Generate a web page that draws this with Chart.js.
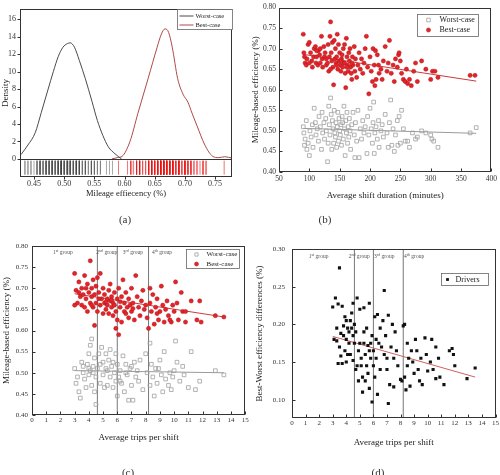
<!DOCTYPE html>
<html><head><meta charset="utf-8">
<script src="https://cdn.jsdelivr.net/npm/chart.js@4/dist/chart.umd.min.js"></script>
<style>
html,body{margin:0;padding:0;background:#fff;}
body{width:500px;height:475px;position:relative;overflow:hidden;font-family:"Liberation Serif",serif;}
.pane{position:absolute;}
.lab{position:absolute;font:11px "Liberation Serif",serif;color:#333;transform:translateX(-50%);white-space:nowrap;}
</style></head><body>
<div class="pane" style="left:0;top:0;width:250px;height:235px"><canvas id="ca"></canvas></div>
<div class="pane" style="left:250px;top:0;width:250px;height:235px"><canvas id="cb"></canvas></div>
<div class="pane" style="left:0;top:235px;width:250px;height:240px"><canvas id="cc"></canvas></div>
<div class="pane" style="left:250px;top:235px;width:250px;height:240px"><canvas id="cd"></canvas></div>
<div class="lab" style="left:125px;top:213px">(a)</div>
<div class="lab" style="left:325px;top:213px">(b)</div>
<div class="lab" style="left:128px;top:466px">(c)</div>
<div class="lab" style="left:378px;top:466px">(d)</div>
<script>
// ---------- DATA ----------
const densWorstX = [0.4285,0.44,0.452,0.462,0.473,0.482,0.490,0.498,0.505,0.510,0.517,0.525,0.535,0.546,0.555,0.564,0.573,0.584,0.595];
const densWorstY = [0.5,1.6,3.0,5.3,7.9,10.0,11.7,12.8,13.2,13.3,12.8,11.3,9.2,6.6,4.4,2.7,1.4,0.6,0.0];
const densBestX = [0.579,0.588,0.596,0.609,0.622,0.639,0.654,0.661,0.667,0.673,0.679,0.688,0.697,0.705,0.712,0.720,0.733,0.746,0.756,0.766,0.778];
const densBestY = [0.0,0.15,0.3,2.0,5.2,9.2,12.8,14.3,14.9,14.5,12.8,9.2,7.4,6.5,5.2,3.8,1.6,0.3,0.15,0.25,0.1];
const densTicksX = [0.45,0.50,0.55,0.60,0.65,0.70,0.75];
const densTicksY = [0,2,4,6,8,10,12,14,16];

const shiftBest = [[90,0.735],[91,0.69],[92,0.68],[93,0.665],[95,0.66],[96,0.675],[98,0.71],[100,0.715],[102,0.69],[104,0.67],[105,0.655],[107,0.68],[108,0.70],[110,0.705],[111,0.665],[112,0.68],[114,0.66],[115,0.695],[117,0.685],[118,0.665],[120,0.73],[121,0.675],[122,0.655],[124,0.705],[125,0.68],[126,0.69],[128,0.66],[130,0.665],[131,0.71],[132,0.645],[133,0.68],[134,0.73],[135,0.765],[136,0.69],[137,0.67],[138,0.715],[139,0.655],[140,0.612],[141,0.72],[142,0.675],[143,0.70],[144,0.665],[145,0.68],[146,0.735],[147,0.65],[148,0.71],[149,0.67],[150,0.69],[151,0.66],[152,0.645],[153,0.675],[154,0.685],[155,0.655],[156,0.70],[157,0.665],[158,0.71],[159,0.64],[160,0.605],[161,0.725],[162,0.68],[163,0.66],[164,0.645],[165,0.69],[166,0.67],[167,0.70],[168,0.655],[169,0.64],[170,0.625],[171,0.68],[172,0.66],[174,0.705],[175,0.645],[176,0.675],[178,0.63],[180,0.66],[182,0.69],[184,0.65],[186,0.675],[188,0.64],[190,0.665],[192,0.70],[194,0.73],[196,0.655],[198,0.59],[200,0.68],[202,0.645],[204,0.62],[205,0.70],[207,0.66],[208,0.61],[209,0.695],[210,0.625],[212,0.685],[214,0.66],[215,0.64],[218,0.65],[220,0.625],[222,0.67],[225,0.705],[228,0.645],[230,0.665],[232,0.72],[235,0.64],[238,0.66],[240,0.62],[242,0.675],[245,0.655],[247,0.685],[248,0.69],[250,0.67],[252,0.64],[255,0.625],[258,0.62],[260,0.65],[262,0.615],[265,0.625],[268,0.61],[272,0.645],[275,0.665],[278,0.62],[285,0.67],[292,0.65],[300,0.625],[303,0.645],[307,0.645],[312,0.63],[365,0.635],[373,0.635],[145,0.66],[152,0.67],[158,0.665],[162,0.655],[128,0.675],[118,0.7],[112,0.695],[100,0.665],[135,0.65],[170,0.665]];
const shiftWorst = [[90,0.51],[91,0.495],[92,0.465],[93,0.48],[95,0.525],[96,0.455],[98,0.47],[100,0.44],[101,0.50],[103,0.485],[105,0.515],[106,0.46],[108,0.555],[110,0.52],[111,0.49],[113,0.505],[115,0.475],[116,0.535],[118,0.51],[120,0.455],[121,0.545],[122,0.495],[124,0.52],[125,0.48],[127,0.53],[128,0.50],[130,0.425],[131,0.47],[132,0.56],[133,0.515],[134,0.49],[135,0.58],[136,0.54],[137,0.455],[138,0.525],[139,0.505],[140,0.47],[141,0.55],[142,0.495],[143,0.485],[144,0.52],[145,0.46],[146,0.51],[147,0.545],[148,0.475],[149,0.53],[150,0.50],[151,0.49],[152,0.515],[153,0.465],[154,0.535],[155,0.52],[156,0.48],[157,0.56],[158,0.505],[159,0.44],[160,0.525],[161,0.495],[162,0.545],[163,0.47],[164,0.51],[165,0.485],[166,0.53],[167,0.50],[168,0.455],[170,0.515],[172,0.545],[174,0.49],[175,0.435],[176,0.52],[178,0.475],[180,0.55],[182,0.435],[184,0.505],[186,0.48],[188,0.525],[190,0.495],[192,0.51],[195,0.445],[196,0.535],[198,0.49],[200,0.555],[202,0.505],[204,0.47],[205,0.52],[206,0.57],[207,0.445],[208,0.495],[210,0.51],[212,0.48],[214,0.525],[215,0.46],[218,0.50],[220,0.515],[222,0.485],[225,0.54],[228,0.495],[230,0.46],[232,0.52],[234,0.575],[236,0.465],[238,0.505],[240,0.45],[242,0.49],[245,0.525],[246,0.465],[248,0.535],[250,0.47],[252,0.55],[255,0.505],[258,0.475],[262,0.475],[265,0.46],[270,0.495],[275,0.48],[278,0.485],[285,0.50],[292,0.495],[300,0.49],[302,0.48],[305,0.475],[312,0.46],[365,0.495],[375,0.508]];
const shiftBestTrend = [[90,0.686],[375,0.621]];
const shiftWorstTrend = [[90,0.506],[375,0.494]];
const shiftTicksX = [50,100,150,200,250,300,350,400];
const effTicksY = [0.40,0.45,0.50,0.55,0.60,0.65,0.70,0.75,0.80];

const tripsBest = [[3.0,0.735],[3.0,0.66],[3.1,0.695],[3.2,0.665],[3.3,0.715],[3.4,0.68],[3.5,0.66],[3.5,0.70],[3.6,0.685],[3.7,0.73],[3.7,0.655],[3.8,0.675],[3.9,0.71],[3.9,0.645],[4.0,0.69],[4.1,0.765],[4.1,0.665],[4.2,0.70],[4.2,0.68],[4.3,0.655],[4.3,0.72],[4.4,0.612],[4.4,0.685],[4.5,0.665],[4.5,0.705],[4.6,0.725],[4.6,0.645],[4.7,0.69],[4.8,0.735],[4.8,0.66],[4.9,0.675],[5.0,0.64],[5.0,0.70],[5.1,0.665],[5.1,0.685],[5.2,0.65],[5.3,0.675],[5.3,0.66],[5.4,0.695],[5.4,0.64],[5.5,0.67],[5.5,0.71],[5.6,0.655],[5.6,0.68],[5.7,0.665],[5.7,0.635],[5.8,0.69],[5.8,0.66],[5.9,0.605],[5.9,0.645],[6.0,0.675],[6.0,0.625],[6.1,0.59],[6.1,0.70],[6.2,0.655],[6.3,0.68],[6.3,0.62],[6.4,0.72],[6.5,0.665],[6.5,0.645],[6.6,0.69],[6.7,0.655],[6.8,0.675],[6.8,0.63],[6.9,0.66],[7.0,0.70],[7.0,0.645],[7.1,0.665],[7.2,0.625],[7.3,0.73],[7.4,0.68],[7.5,0.655],[7.6,0.635],[7.7,0.67],[7.8,0.695],[7.9,0.65],[8.0,0.66],[8.1,0.63],[8.2,0.605],[8.3,0.70],[8.3,0.665],[8.4,0.645],[8.5,0.685],[8.6,0.615],[8.7,0.655],[8.8,0.675],[8.9,0.625],[9.0,0.645],[9.1,0.705],[9.2,0.66],[9.3,0.62],[9.4,0.65],[9.5,0.67],[9.6,0.635],[9.8,0.62],[9.9,0.66],[10.0,0.645],[10.1,0.715],[10.2,0.665],[10.3,0.625],[10.5,0.69],[10.6,0.645],[10.8,0.62],[10.8,0.645],[11.2,0.67],[11.6,0.625],[11.8,0.67],[11.9,0.62],[12.9,0.635],[13.5,0.632],[3.3,0.69],[3.8,0.70],[4.2,0.66],[4.7,0.675],[5.2,0.668],[5.6,0.672],[6.2,0.668],[6.6,0.64],[7.1,0.652],[8.8,0.64],[9.7,0.625]];
const tripsWorst = [[3.0,0.51],[3.1,0.475],[3.2,0.49],[3.3,0.455],[3.4,0.44],[3.5,0.525],[3.6,0.50],[3.7,0.485],[3.8,0.465],[3.9,0.52],[4.0,0.545],[4.0,0.495],[4.1,0.505],[4.1,0.565],[4.2,0.58],[4.2,0.47],[4.3,0.515],[4.4,0.455],[4.4,0.535],[4.5,0.425],[4.5,0.49],[4.6,0.51],[4.7,0.545],[4.8,0.475],[4.9,0.56],[5.0,0.495],[5.0,0.525],[5.1,0.465],[5.2,0.545],[5.3,0.505],[5.3,0.47],[5.4,0.53],[5.5,0.49],[5.5,0.555],[5.6,0.515],[5.7,0.465],[5.8,0.50],[5.9,0.545],[5.9,0.48],[6.0,0.445],[6.0,0.52],[6.1,0.49],[6.2,0.505],[6.3,0.475],[6.4,0.54],[6.5,0.455],[6.6,0.52],[6.7,0.495],[6.8,0.435],[6.9,0.51],[7.0,0.47],[7.1,0.435],[7.2,0.525],[7.3,0.49],[7.4,0.505],[7.5,0.48],[7.6,0.53],[7.8,0.46],[8.0,0.545],[8.1,0.50],[8.3,0.57],[8.3,0.47],[8.4,0.52],[8.5,0.49],[8.6,0.445],[8.7,0.51],[8.8,0.475],[9.0,0.53],[9.1,0.495],[9.2,0.455],[9.3,0.55],[9.4,0.485],[9.6,0.47],[9.7,0.50],[9.8,0.46],[10.0,0.505],[10.1,0.575],[10.2,0.525],[10.4,0.48],[10.6,0.515],[10.7,0.495],[11.0,0.465],[11.2,0.55],[11.5,0.46],[11.8,0.48],[12.9,0.505],[13.5,0.495],[3.6,0.515],[4.0,0.51],[4.3,0.50],[4.8,0.52],[5.2,0.51],[5.7,0.525],[6.2,0.48],[6.6,0.50],[7.0,0.515],[8.9,0.51],[9.9,0.49]];
const tripsBestTrend = [[3.0,0.687],[13.5,0.632]];
const tripsWorstTrend = [[3.0,0.505],[13.5,0.500]];
const tripsTicksX = [0,1,2,3,4,5,6,7,8,9,10,11,12,13,14,15];
const groupBounds = [4.6,6.0,8.2];
const groupNum = ['1','2','3','4'];
const groupSuf = ['st','nd','rd','th'];
const groupLabelXc = [2.17,5.26,7.1,9.15];
const groupLabelXd = [1.96,4.95,6.8,9.0];

const tripsDiff = [[3.0,0.223],[3.1,0.18],[3.2,0.235],[3.3,0.178],[3.3,0.195],[3.4,0.227],[3.4,0.148],[3.5,0.275],[3.5,0.17],[3.6,0.158],[3.6,0.188],[3.7,0.224],[3.7,0.148],[3.8,0.185],[3.8,0.198],[3.9,0.21],[3.9,0.165],[4.0,0.205],[4.0,0.18],[4.0,0.15],[4.1,0.195],[4.1,0.16],[4.2,0.19],[4.2,0.175],[4.3,0.205],[4.3,0.16],[4.4,0.215],[4.4,0.195],[4.5,0.152],[4.5,0.228],[4.5,0.185],[4.6,0.2],[4.6,0.175],[4.7,0.14],[4.7,0.19],[4.8,0.145],[4.8,0.235],[4.9,0.165],[4.9,0.125],[5.0,0.22],[5.0,0.175],[5.1,0.145],[5.1,0.155],[5.2,0.11],[5.2,0.13],[5.3,0.222],[5.3,0.175],[5.3,0.19],[5.4,0.16],[5.4,0.125],[5.5,0.195],[5.5,0.145],[5.6,0.172],[5.6,0.135],[5.7,0.228],[5.7,0.115],[5.7,0.165],[5.8,0.155],[5.8,0.175],[5.9,0.097],[5.9,0.185],[6.0,0.145],[6.0,0.165],[6.1,0.21],[6.1,0.13],[6.2,0.18],[6.2,0.155],[6.3,0.213],[6.3,0.107],[6.4,0.175],[6.5,0.195],[6.5,0.14],[6.6,0.17],[6.7,0.205],[6.8,0.245],[6.8,0.16],[6.9,0.185],[7.0,0.14],[7.0,0.155],[7.1,0.095],[7.1,0.212],[7.2,0.12],[7.3,0.17],[7.4,0.2],[7.5,0.155],[7.5,0.117],[7.6,0.19],[7.7,0.165],[7.8,0.145],[8.0,0.127],[8.1,0.125],[8.2,0.198],[8.3,0.13],[8.3,0.2],[8.4,0.113],[8.5,0.175],[8.5,0.145],[8.6,0.155],[8.7,0.118],[8.8,0.165],[8.9,0.15],[9.0,0.135],[9.1,0.18],[9.2,0.165],[9.3,0.14],[9.4,0.125],[9.5,0.155],[9.6,0.12],[9.8,0.182],[9.9,0.16],[10.0,0.138],[10.2,0.15],[10.3,0.18],[10.4,0.14],[10.6,0.128],[10.6,0.17],[10.8,0.155],[10.9,0.13],[11.2,0.12],[11.6,0.165],[11.8,0.168],[11.9,0.16],[12.0,0.145],[12.9,0.128],[13.5,0.142]];
const diffTrend = [[3.0,0.184],[13.5,0.130]];
const diffTicksY = [0.10,0.15,0.20,0.25,0.30];

// ---------- HELPERS ----------
Chart.defaults.font.family = "'Liberation Serif','Times New Roman',serif";
Chart.defaults.color = '#333';
Chart.defaults.animation = false;

const pts = arr => arr.map(p => ({x:p[0], y:p[1]}));
const fixedTicks = vals => scale => { scale.ticks = vals.map(v => ({value:v})); };

function marker(ctx, kind, x, y, r){
  ctx.beginPath();
  if (kind === 'circle') { ctx.arc(x, y, r, 0, Math.PI*2); }
  else { ctx.rect(x - r, y - r, 2*r, 2*r); }
}

const framePlugin = {
  id: 'frame',
  afterDatasetsDraw(chart, args, o) {
    const {ctx, chartArea:a, scales} = chart;
    ctx.save();
    const L = Math.round(a.left)+0.5, T = Math.round(a.top)+0.5, R = Math.round(a.right)-0.5, B = Math.round(a.bottom)-0.5;
    ctx.strokeStyle = '#333'; ctx.lineWidth = 1;
    ctx.strokeRect(L, T, R-L, B-T);
    const tl = o.tickLen || 3, dir = o.inward ? 1 : -1;
    ctx.beginPath();
    scales.x.ticks.forEach(t => { const px = Math.round(scales.x.getPixelForValue(t.value))+0.5; ctx.moveTo(px, B); ctx.lineTo(px, B - dir*tl); });
    scales.y.ticks.forEach(t => { const py = Math.round(scales.y.getPixelForValue(t.value))+0.5; ctx.moveTo(L, py); ctx.lineTo(L + dir*tl, py); });
    ctx.stroke();
    if (o.zeroLine) {
      const py = Math.round(scales.y.getPixelForValue(0))+0.5;
      ctx.beginPath(); ctx.moveTo(L, py); ctx.lineTo(R, py); ctx.stroke();
    }
    if (o.groups) {
      const g = o.groups;
      ctx.fillStyle = '#555'; ctx.textBaseline = 'alphabetic';
      const fam = "'Liberation Serif',serif";
      g.xs.forEach((gx, i) => {
        const px = scales.x.getPixelForValue(gx), py = scales.y.getPixelForValue(g.y);
        ctx.font = `5.5px ${fam}`; const w1 = ctx.measureText(groupNum[i]).width;
        const w3 = ctx.measureText(' group').width;
        ctx.font = `4px ${fam}`; const w2 = ctx.measureText(groupSuf[i]).width;
        let x0 = px - (w1+w2+w3)/2;
        ctx.font = `5.5px ${fam}`; ctx.fillText(groupNum[i], x0, py + 2);
        ctx.font = `4px ${fam}`; ctx.fillText(groupSuf[i], x0 + w1, py);
        ctx.font = `5.5px ${fam}`; ctx.fillText(' group', x0 + w1 + w2, py + 2);
      });
    }
    if (o.legend) {
      const lg = o.legend;
      const bx = Math.round(a.right - lg.right - lg.w) + 0.5, by = Math.round(a.top + lg.top) + 0.5;
      ctx.fillStyle = '#fff'; ctx.fillRect(bx, by, lg.w, lg.h);
      ctx.strokeStyle = '#666'; ctx.lineWidth = 0.8; ctx.strokeRect(bx, by, lg.w, lg.h);
      lg.rows.forEach((r, i) => {
        const y = by + lg.y0 + i*lg.gap;
        if (r.kind === 'line') {
          ctx.strokeStyle = r.color; ctx.lineWidth = 1;
          ctx.beginPath(); ctx.moveTo(bx + lg.m0, y); ctx.lineTo(bx + lg.m1, y); ctx.stroke();
        } else {
          marker(ctx, r.kind, bx + lg.mx, y, r.r);
          if (r.fill) { ctx.fillStyle = r.fill; ctx.fill(); }
          if (r.stroke) { ctx.strokeStyle = r.stroke; ctx.lineWidth = r.bw || 0.8; ctx.stroke(); }
        }
        ctx.fillStyle = '#222'; ctx.font = `${lg.font}px 'Liberation Serif',serif`;
        ctx.textBaseline = 'middle'; ctx.textAlign = 'left';
        ctx.fillText(r.label, bx + lg.tx, y);
      });
    }
    ctx.restore();
  }
};
Chart.register(framePlugin);

function xAxis(min, max, tickVals, fmt, title, tickFont, tickPad, height, titleFont, titlePadB) {
  return { type:'linear', min, max, afterBuildTicks: fixedTicks(tickVals), afterFit: s => { s.height = height; },
    grid:{display:false, drawTicks:false}, border:{display:false},
    ticks:{font:{size:tickFont}, padding:tickPad, callback:fmt, maxRotation:0, autoSkip:false, color:'#333'},
    title:{display:true, text:title, color:'#222', font:{size:titleFont}, padding:{top:0, bottom:titlePadB}} };
}
function yAxis(min, max, tickVals, fmt, title, tickFont, tickPad, width, titleFont, titlePadT) {
  return { type:'linear', min, max, afterBuildTicks: fixedTicks(tickVals), afterFit: s => { s.width = width; },
    grid:{display:false, drawTicks:false}, border:{display:false},
    ticks:{font:{size:tickFont}, padding:tickPad, callback:fmt, autoSkip:false, color:'#333'},
    title:{display:true, text:title, color:'#222', font:{size:titleFont}, padding:{top:titlePadT, bottom:0}} };
}
const f2 = v => Number(v).toFixed(2);
const f0 = v => String(v);

const worstStyle = {pointStyle:'rect', pointRadius:2.6, pointBackgroundColor:'rgba(255,255,255,0)', pointBorderColor:'#a0a0a0', pointBorderWidth:0.8, showLine:false};
const bestStyle = {pointStyle:'circle', pointRadius:2.1, pointBackgroundColor:'#e8222a', pointBorderColor:'#a81818', pointBorderWidth:0.5, showLine:false};
const trendLine = (arr, color) => ({data:pts(arr), showLine:true, borderColor:color, borderWidth:1, pointRadius:0});
const vline = (x, y0, y1) => ({data:[{x, y:y0},{x, y:y1}], showLine:true, borderColor:'#777', borderWidth:1, pointRadius:0});

const baseOpts = (padding) => ({ responsive:true, maintainAspectRatio:false, animation:false, layout:{padding},
  plugins:{legend:{display:false}, tooltip:{enabled:false}} });

// ---------- (a) ----------
{
  const o = baseOpts({left:0, right:18, top:1, bottom:34});
  o.scales = {
    x: xAxis(0.4268, 0.778, densTicksX, f2, 'Mileage effiecency (%)', 8, 2, 24, 8.5, 2),
    y: yAxis(-2.07, 17.2, densTicksY, f0, 'Density', 8, 4, 20, 9, 0)
  };
  o.plugins.frame = { inward:false, tickLen:3, zeroLine:true,
    legend:{right:0, top:0, w:55, h:20, font:6.5, y0:6.5, gap:9, m0:2, m1:16, tx:18,
      rows:[{label:'Worst-case', kind:'line', color:'#4a4a4a'},{label:'Best-case', kind:'line', color:'#b04848'}]} };
  const rugY = -1.0;
  new Chart(document.getElementById('ca'), { type:'scatter', data:{datasets:[
    {data: shiftWorst.map(p => ({x:p[1], y:rugY})), pointStyle:'line', rotation:90, pointRadius:7, pointBorderColor:'rgba(60,60,60,0.45)', pointBorderWidth:1},
    {data: shiftBest.map(p => ({x:p[1], y:rugY})), pointStyle:'line', rotation:90, pointRadius:7, pointBorderColor:'rgba(230,20,20,0.6)', pointBorderWidth:1},
    {data: densWorstX.map((x,i) => ({x, y:densWorstY[i]})), showLine:true, borderColor:'#4a4a4a', borderWidth:1, pointRadius:0, cubicInterpolationMode:'monotone'},
    {data: densBestX.map((x,i) => ({x, y:densBestY[i]})), showLine:true, borderColor:'#b04848', borderWidth:1, pointRadius:0, cubicInterpolationMode:'monotone'}
  ]}, options:o });
}

// ---------- (b) ----------
{
  const o = baseOpts({left:0, right:5, top:4, bottom:33});
  o.scales = {
    x: xAxis(50, 400, shiftTicksX, f0, 'Average shift duration (minutes)', 7.5, 3, 30, 9, 1),
    y: yAxis(0.4, 0.8, effTicksY, f2, 'Mileage-based efficiency (%)', 7.5, 3, 29, 9, 0)
  };
  o.plugins.frame = { inward:true, tickLen:3,
    legend:{right:13, top:6, w:61, h:22, font:8, y0:5.5, gap:10, mx:11, tx:22,
      rows:[{label:'Worst-case', kind:'rect', r:1.8, stroke:'#a0a0a0'},{label:'Best-case', kind:'circle', r:2.1, fill:'#e8222a', stroke:'#a81818', bw:0.5}]} };
  new Chart(document.getElementById('cb'), { type:'scatter', data:{datasets:[
    Object.assign({data:pts(shiftWorst)}, worstStyle),
    Object.assign({data:pts(shiftBest)}, bestStyle),
    trendLine(shiftWorstTrend, '#9a9a9a'),
    trendLine(shiftBestTrend, '#d03a3a')
  ]}, options:o });
}

// ---------- (c) ----------
{
  const o = baseOpts({left:0, right:4, top:11, bottom:30});
  o.scales = {
    x: xAxis(0, 15, tripsTicksX, f0, 'Average trips per shift', 7, 1, 30, 9, 2),
    y: yAxis(0.4, 0.8, effTicksY, f2, 'Mileage-based efficiency (%)', 7, 4, 32, 9, 1)
  };
  o.plugins.frame = { inward:true, tickLen:3, groups:{y:0.786, xs:groupLabelXc},
    legend:{right:6, top:3, w:53, h:19, font:7, y0:5, gap:9.5, mx:10, tx:20,
      rows:[{label:'Worst-case', kind:'rect', r:1.6, stroke:'#a0a0a0'},{label:'Best-case', kind:'circle', r:2.0, fill:'#e8222a', stroke:'#a81818', bw:0.5}]} };
  new Chart(document.getElementById('cc'), { type:'scatter', data:{datasets:[
    Object.assign({data:pts(tripsWorst)}, worstStyle),
    Object.assign({data:pts(tripsBest)}, bestStyle),
    trendLine(tripsWorstTrend, '#9a9a9a'),
    trendLine(tripsBestTrend, '#d03a3a'),
    ...groupBounds.map(g => vline(g, 0.4, 0.8))
  ]}, options:o });
}

// ---------- (d) ----------
{
  const o = baseOpts({left:0, right:1, top:14, bottom:27});
  o.scales = {
    x: xAxis(0, 15, tripsTicksX, f0, 'Average trips per shift', 7, 1, 30, 9, 0),
    y: yAxis(0.0757, 0.30, diffTicksY, f2, 'Best-Worst efficiency differences (%)', 7, 7, 42, 9, 4)
  };
  o.plugins.frame = { inward:true, tickLen:3, groups:{y:0.291, xs:groupLabelXd},
    legend:{right:8, top:24, w:47, h:12, font:8, y0:6, gap:10, mx:6, tx:14,
      rows:[{label:'Drivers', kind:'rect', r:1.4, fill:'#111'}]} };
  new Chart(document.getElementById('cd'), { type:'scatter', data:{datasets:[
    {data:pts(tripsDiff), pointStyle:'rect', pointRadius:2.2, pointBackgroundColor:'#111', pointBorderColor:'#111', pointBorderWidth:0},
    trendLine(diffTrend, '#d06060'),
    ...groupBounds.map(g => vline(g, 0.0757, 0.30))
  ]}, options:o });
}
</script>
</body></html>
